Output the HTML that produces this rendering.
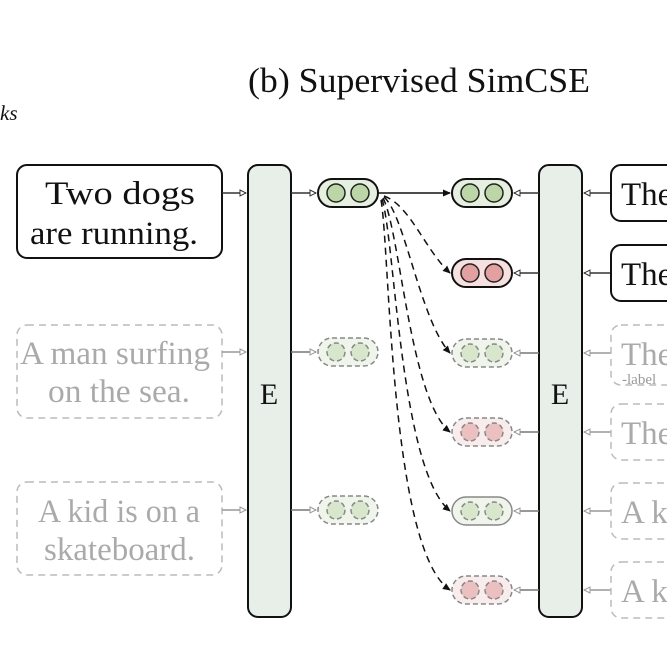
<!DOCTYPE html>
<html><head><meta charset="utf-8"><style>body{margin:0;background:#fff}svg{display:block}</style></head><body>
<svg width="667" height="666" viewBox="0 0 667 666" xmlns="http://www.w3.org/2000/svg" font-family="Liberation Serif, serif">
<defs>
<marker id="ah" markerWidth="8" markerHeight="8" refX="7" refY="4" orient="auto" markerUnits="userSpaceOnUse"><path d="M0,0.5 L8,4 L0,7.5 Z" fill="#111"/></marker>
<marker id="oh" markerWidth="8" markerHeight="8" refX="7" refY="4" orient="auto" markerUnits="userSpaceOnUse"><path d="M1,1 L7,4 L1,7 Z" fill="#fff" stroke="#333" stroke-width="1"/></marker>
<marker id="gh" markerWidth="8" markerHeight="8" refX="7" refY="4" orient="auto" markerUnits="userSpaceOnUse"><path d="M1,1 L7,4 L1,7 Z" fill="#fff" stroke="#999" stroke-width="1"/></marker>
</defs>
<text x="248" y="92" font-size="35" textLength="342" lengthAdjust="spacingAndGlyphs" fill="#111">(b) Supervised SimCSE</text>
<text x="0" y="120" font-size="21" font-style="italic" fill="#111">ks</text>

<!-- left sentence boxes -->
<rect x="17" y="165" width="205" height="93" rx="10" fill="#fff" stroke="#111" stroke-width="2"/>
<text x="45" y="204" font-size="33" textLength="150" lengthAdjust="spacingAndGlyphs" fill="#111">Two dogs</text>
<text x="30" y="244" font-size="33" textLength="168" lengthAdjust="spacingAndGlyphs" fill="#111">are running.</text>
<rect x="17" y="325" width="205" height="93" rx="10" fill="#fff" stroke="#bbb" stroke-width="1.5" stroke-dasharray="7,5"/>
<text x="20" y="364" font-size="33" textLength="190" lengthAdjust="spacingAndGlyphs" fill="#aaa">A man surfing</text>
<text x="48" y="402" font-size="33" textLength="142" lengthAdjust="spacingAndGlyphs" fill="#aaa">on the sea.</text>
<rect x="17" y="482" width="205" height="93" rx="10" fill="#fff" stroke="#bbb" stroke-width="1.5" stroke-dasharray="7,5"/>
<text x="38" y="522" font-size="33" textLength="162" lengthAdjust="spacingAndGlyphs" fill="#aaa">A kid is on a</text>
<text x="44" y="560" font-size="33" textLength="151" lengthAdjust="spacingAndGlyphs" fill="#aaa">skateboard.</text>

<!-- encoders -->
<rect x="248" y="165" width="43" height="452" rx="10" fill="#e8efe8" stroke="#111" stroke-width="2"/>
<text x="269" y="404" font-size="30" text-anchor="middle" fill="#111">E</text>
<rect x="539" y="165" width="43" height="452" rx="10" fill="#e8efe8" stroke="#111" stroke-width="2"/>
<text x="560" y="404" font-size="30" text-anchor="middle" fill="#111">E</text>

<!-- left arrows -->
<line x1="222" y1="193" x2="246" y2="193" stroke="#333" stroke-width="1.5" marker-end="url(#oh)"/>
<line x1="291" y1="193" x2="316" y2="193" stroke="#333" stroke-width="1.5" marker-end="url(#oh)"/>
<line x1="222" y1="352" x2="246" y2="352" stroke="#999" stroke-width="1.5" marker-end="url(#gh)"/>
<line x1="291" y1="352" x2="316" y2="352" stroke="#777" stroke-width="1.5" marker-end="url(#gh)"/>
<line x1="222" y1="510" x2="246" y2="510" stroke="#999" stroke-width="1.5" marker-end="url(#gh)"/>
<line x1="291" y1="510" x2="316" y2="510" stroke="#777" stroke-width="1.5" marker-end="url(#gh)"/>

<!-- left capsules -->
<rect x="318" y="179" width="60" height="28" rx="14" fill="#e6f0e0" stroke="#111" stroke-width="2"/>
<circle cx="336" cy="193" r="9" fill="#bcd6a8" stroke="#222" stroke-width="1.5"/>
<circle cx="360" cy="193" r="9" fill="#bcd6a8" stroke="#222" stroke-width="1.5"/>
<g stroke="#888" stroke-width="1.5" stroke-dasharray="5,3">
<rect x="318" y="338" width="60" height="28" rx="14" fill="#f0f5ec"/>
<circle cx="336" cy="352" r="9" fill="#d8e6cc"/><circle cx="360" cy="352" r="9" fill="#d8e6cc"/>
<rect x="318" y="496" width="60" height="28" rx="14" fill="#f0f5ec"/>
<circle cx="336" cy="510" r="9" fill="#d8e6cc"/><circle cx="360" cy="510" r="9" fill="#d8e6cc"/>
</g>

<!-- right capsules -->
<rect x="452" y="179" width="60" height="28" rx="14" fill="#e6f0e0" stroke="#111" stroke-width="2"/>
<circle cx="470" cy="193" r="9" fill="#bcd6a8" stroke="#222" stroke-width="1.5"/>
<circle cx="494" cy="193" r="9" fill="#bcd6a8" stroke="#222" stroke-width="1.5"/>
<rect x="452" y="259" width="60" height="28" rx="14" fill="#f6e0e0" stroke="#111" stroke-width="2"/>
<circle cx="470" cy="273" r="9" fill="#e3a0a0" stroke="#222" stroke-width="1.5"/>
<circle cx="494" cy="273" r="9" fill="#e3a0a0" stroke="#222" stroke-width="1.5"/>
<g stroke="#888" stroke-width="1.5" stroke-dasharray="5,3">
<rect x="452" y="339" width="60" height="28" rx="14" fill="#f0f5ec"/>
<circle cx="470" cy="353" r="9" fill="#d8e6cc"/><circle cx="494" cy="353" r="9" fill="#d8e6cc"/>
<rect x="452" y="418" width="60" height="28" rx="14" fill="#f9ecec"/>
<circle cx="470" cy="432" r="9" fill="#ecc0c0"/><circle cx="494" cy="432" r="9" fill="#ecc0c0"/>
<rect x="452" y="576" width="60" height="28" rx="14" fill="#f9ecec"/>
<circle cx="470" cy="590" r="9" fill="#ecc0c0"/><circle cx="494" cy="590" r="9" fill="#ecc0c0"/>
</g>
<rect x="452" y="497" width="60" height="28" rx="14" fill="#f0f5ec" stroke="#888" stroke-width="1.5"/>
<g stroke="#888" stroke-width="1.5" stroke-dasharray="5,3">
<circle cx="470" cy="511" r="9" fill="#d8e6cc"/><circle cx="494" cy="511" r="9" fill="#d8e6cc"/>
</g>

<!-- arrows into right capsules -->
<line x1="378" y1="193" x2="450" y2="193" stroke="#111" stroke-width="1.5" marker-end="url(#ah)"/>
<g fill="none" stroke="#111" stroke-width="1.5" stroke-dasharray="7,5" marker-end="url(#ah)">
<path d="M384,196 C410,205 425,250 450,273"/>
<path d="M384,197 C405,215 420,320 450,353"/>
<path d="M383,198 C400,230 410,400 450,432"/>
<path d="M382,199 C395,240 400,470 450,511"/>
<path d="M381,200 C390,250 390,550 450,590"/>
</g>
<g stroke-width="1.5">
<line x1="539" y1="193" x2="514" y2="193" stroke="#333" marker-end="url(#oh)"/>
<line x1="539" y1="273" x2="514" y2="273" stroke="#333" marker-end="url(#oh)"/>
<line x1="539" y1="353" x2="514" y2="353" stroke="#777" marker-end="url(#gh)"/>
<line x1="539" y1="432" x2="514" y2="432" stroke="#777" marker-end="url(#gh)"/>
<line x1="539" y1="511" x2="514" y2="511" stroke="#777" marker-end="url(#gh)"/>
<line x1="539" y1="590" x2="514" y2="590" stroke="#777" marker-end="url(#gh)"/>
<line x1="611" y1="193" x2="584" y2="193" stroke="#333" marker-end="url(#oh)"/>
<line x1="611" y1="273" x2="584" y2="273" stroke="#333" marker-end="url(#oh)"/>
<line x1="611" y1="353" x2="584" y2="353" stroke="#999" marker-end="url(#gh)"/>
<line x1="611" y1="432" x2="584" y2="432" stroke="#999" marker-end="url(#gh)"/>
<line x1="611" y1="511" x2="584" y2="511" stroke="#999" marker-end="url(#gh)"/>
<line x1="611" y1="590" x2="584" y2="590" stroke="#999" marker-end="url(#gh)"/>
</g>

<!-- right sentence boxes (cut off) -->
<rect x="611" y="165" width="80" height="56" rx="10" fill="#fff" stroke="#111" stroke-width="2"/>
<text x="621" y="205" font-size="33" fill="#111">The</text>
<rect x="611" y="245" width="80" height="56" rx="10" fill="#fff" stroke="#111" stroke-width="2"/>
<text x="621" y="285" font-size="33" fill="#111">The</text>
<g fill="#fff" stroke="#bbb" stroke-width="1.5" stroke-dasharray="7,5">
<rect x="611" y="325" width="80" height="60" rx="10"/>
<rect x="611" y="404" width="80" height="56" rx="10"/>
<rect x="611" y="483" width="80" height="56" rx="10"/>
<rect x="611" y="562" width="80" height="56" rx="10"/>
</g>
<text x="621" y="365" font-size="33" fill="#aaa">The</text>
<text x="622" y="384" font-size="15" fill="#999">-label</text>
<text x="621" y="444" font-size="33" fill="#aaa">The</text>
<text x="621" y="523" font-size="33" fill="#aaa">A ki</text>
<text x="621" y="602" font-size="33" fill="#aaa">A ki</text>
</svg>
</body></html>
